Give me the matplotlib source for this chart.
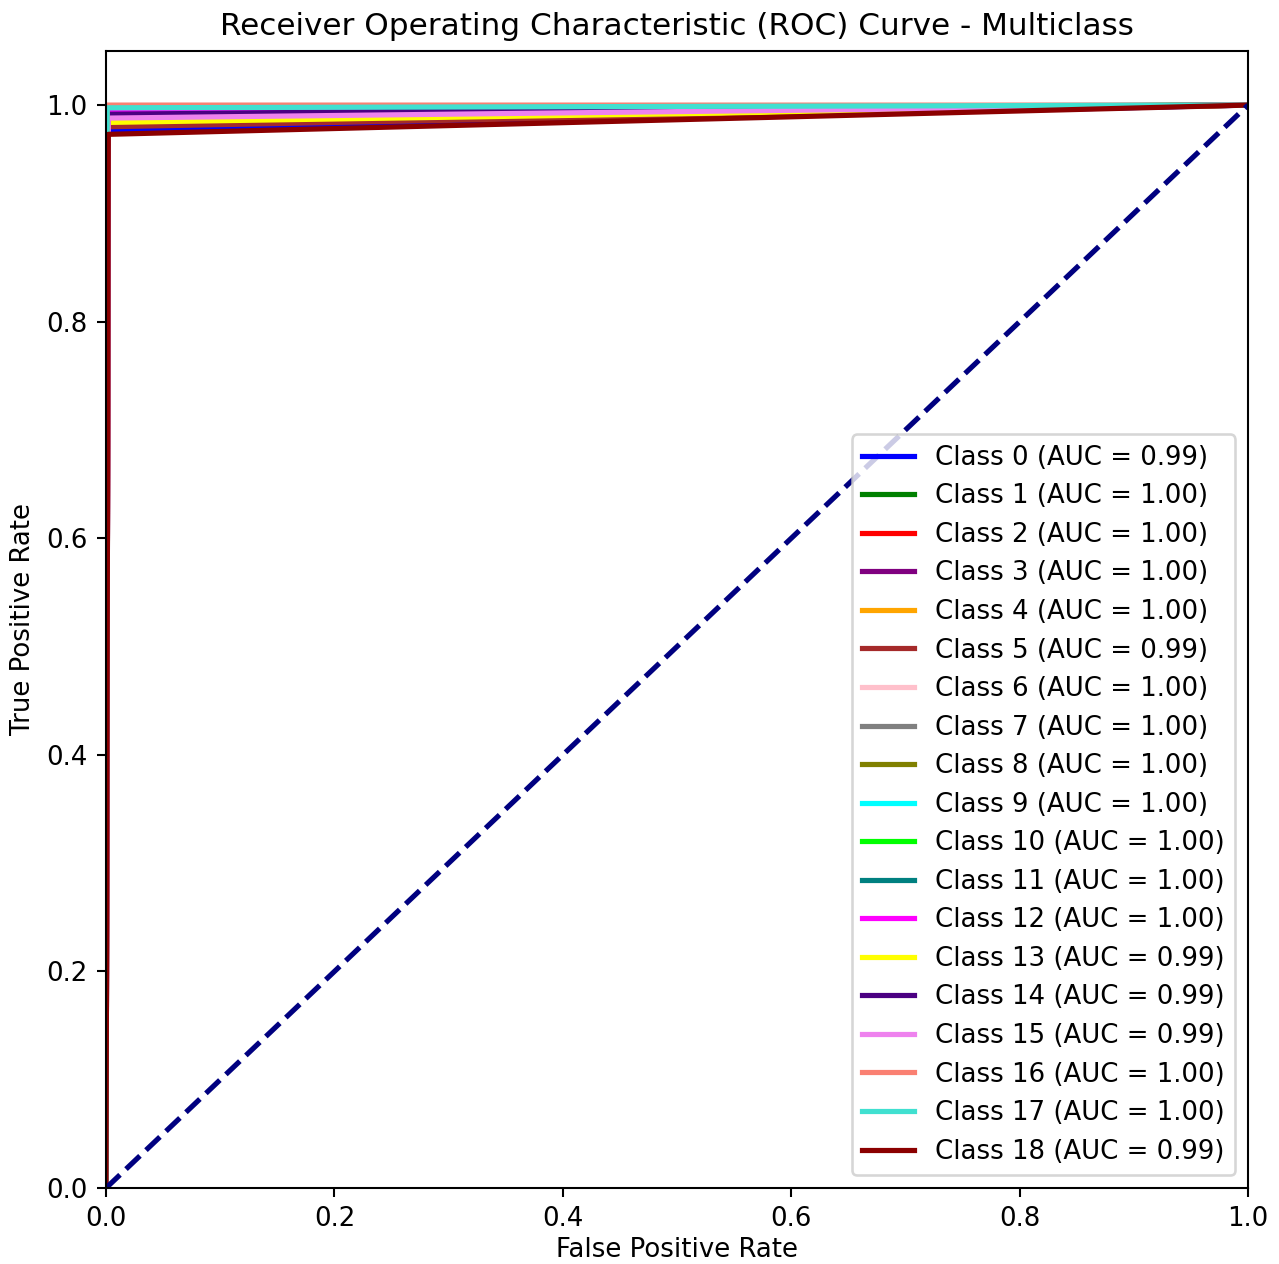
import matplotlib
matplotlib.use("Agg")
import matplotlib.pyplot as plt

# Per-class ROC operating points (false positive rate, true positive rate)
class_ids = list(range(19))
colors = ["blue", "green", "red", "purple", "orange", "brown", "pink", "gray",
          "olive", "cyan", "lime", "teal", "magenta", "yellow", "indigo",
          "violet", "salmon", "turquoise", "darkred"]
auc_values = [0.99, 1.00, 1.00, 1.00, 1.00, 0.99, 1.00, 1.00, 1.00, 1.00,
              1.00, 1.00, 1.00, 0.99, 0.99, 0.99, 1.00, 1.00, 0.99]

fpr_0 = [0.0, 0.002, 1.0];  tpr_0 = [0.0, 0.977, 1.0]
fpr_1 = [0.0, 0.001, 1.0];  tpr_1 = [0.0, 0.995, 1.0]
fpr_2 = [0.0, 0.001, 1.0];  tpr_2 = [0.0, 0.990, 1.0]
fpr_3 = [0.0, 0.002, 0.55, 1.0];  tpr_3 = [0.0, 0.991, 0.997, 1.0]
fpr_4 = [0.0, 0.002, 1.0];  tpr_4 = [0.0, 0.982, 1.0]
fpr_5 = [0.0, 0.002, 1.0];  tpr_5 = [0.0, 0.980, 1.0]
fpr_6 = [0.0, 0.001, 1.0];  tpr_6 = [0.0, 0.993, 1.0]
fpr_7 = [0.0, 0.001, 1.0];  tpr_7 = [0.0, 0.996, 1.0]
fpr_8 = [0.0, 0.001, 1.0];  tpr_8 = [0.0, 0.994, 1.0]
fpr_9 = [0.0, 0.001, 1.0];  tpr_9 = [0.0, 0.998, 1.0]
fpr_10 = [0.0, 0.001, 1.0]; tpr_10 = [0.0, 0.995, 1.0]
fpr_11 = [0.0, 0.001, 1.0]; tpr_11 = [0.0, 0.996, 1.0]
fpr_12 = [0.0, 0.002, 1.0]; tpr_12 = [0.0, 0.993, 1.0]
fpr_13 = [0.0, 0.002, 1.0]; tpr_13 = [0.0, 0.984, 1.0]
fpr_14 = [0.0, 0.002, 0.55, 1.0]; tpr_14 = [0.0, 0.9915, 0.997, 1.0]
fpr_15 = [0.0, 0.002, 1.0]; tpr_15 = [0.0, 0.988, 1.0]
fpr_16 = [0.0, 0.001, 1.0]; tpr_16 = [0.0, 1.000, 1.0]
fpr_17 = [0.0, 0.001, 1.0]; tpr_17 = [0.0, 0.9975, 1.0]
fpr_18 = [0.0, 0.002, 1.0]; tpr_18 = [0.0, 0.973, 1.0]

fprs = [fpr_0, fpr_1, fpr_2, fpr_3, fpr_4, fpr_5, fpr_6, fpr_7, fpr_8, fpr_9,
        fpr_10, fpr_11, fpr_12, fpr_13, fpr_14, fpr_15, fpr_16, fpr_17, fpr_18]
tprs = [tpr_0, tpr_1, tpr_2, tpr_3, tpr_4, tpr_5, tpr_6, tpr_7, tpr_8, tpr_9,
        tpr_10, tpr_11, tpr_12, tpr_13, tpr_14, tpr_15, tpr_16, tpr_17, tpr_18]

DPI = 187
fig = plt.figure(figsize=(1279 / DPI, 1264 / DPI), dpi=DPI)
ax = fig.add_axes([0.0829, 0.0601, 0.8929, 0.8996])

for cid, fpr, tpr, col, auc in zip(class_ids, fprs, tprs, colors, auc_values):
    ax.plot(fpr, tpr, color=col, lw=2, label=f"Class {cid} (AUC = {auc:.2f})")

ax.plot([0, 1], [0, 1], color="navy", lw=2, linestyle="--")
ax.set_xlim(0.0, 1.0)
ax.set_ylim(0.0, 1.05)
ax.set_xlabel("False Positive Rate", labelpad=2)
ax.set_ylabel("True Positive Rate")
ax.set_title("Receiver Operating Characteristic (ROC) Curve - Multiclass")
ax.legend(loc="lower right", labelspacing=0.483)

fig.savefig("out.png", dpi=DPI)
